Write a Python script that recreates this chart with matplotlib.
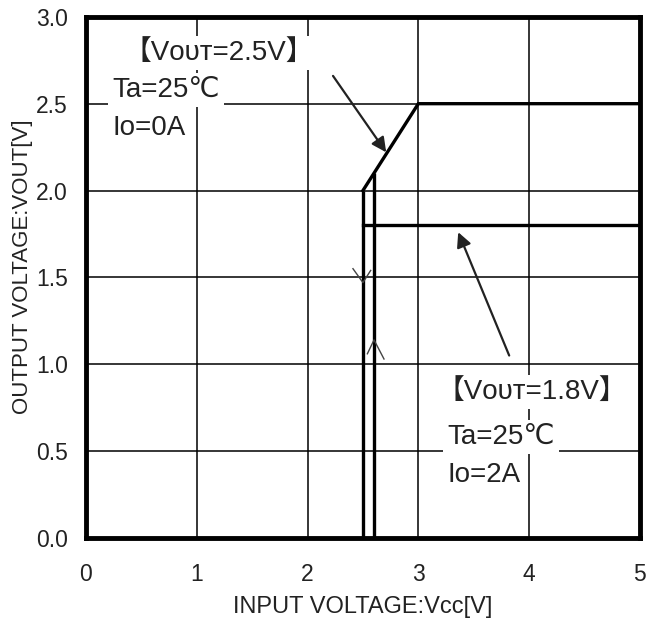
import matplotlib
matplotlib.use('Agg')
import matplotlib.pyplot as plt

# ---- data ----
fall_x = [2.5, 2.5]           # falling edge (Vcc decreasing)
fall_y = [0.0, 2.0]
rise_x = [2.6, 2.6]           # rising edge (Vcc increasing)
rise_y = [0.0, 2.1]
out25_x = [2.5, 3.0, 5.0]     # Vout = 2.5V setting
out25_y = [2.0, 2.5, 2.5]
out18_x = [2.5, 5.0]          # Vout = 1.8V setting
out18_y = [1.8, 1.8]

xticks = [0, 1, 2, 3, 4, 5]
yticks = [0.0, 0.5, 1.0, 1.5, 2.0, 2.5, 3.0]

# small hysteresis chevrons: (left arm, tip, right arm)
down_chev = [(2.41, 1.55), (2.5, 1.47), (2.57, 1.54)]
up_chev = [(2.54, 1.06), (2.6, 1.14), (2.69, 1.03)]

# annotation arrows: (tail, tip)
arrow25 = ((2.23, 2.66), (2.71, 2.22))
arrow18 = ((3.82, 1.05), (3.36, 1.76))

fams = ['Liberation Sans', 'DejaVu Sans', 'Noto Sans CJK JP']
plt.rcParams['font.family'] = fams

fig = plt.figure(figsize=(6.51, 6.24), dpi=100)
ax = fig.add_axes([0.132, 0.138, 0.851, 0.835])

ax.set_xlim(0, 5)
ax.set_ylim(0, 3)
ax.set_xticks(xticks)
ax.set_yticks(yticks)
ax.set_xticklabels([str(t) for t in xticks])
ax.set_yticklabels([f'{t:.1f}' for t in yticks])
ax.tick_params(length=0, labelsize=16.5, colors='#222222')
ax.tick_params(axis='x', pad=18)
ax.tick_params(axis='y', pad=13)
ax.grid(True, color='black', linewidth=1.1)
ax.set_axisbelow(True)
for s in ax.spines.values():
    s.set_linewidth(3.5)

ax.plot(fall_x, fall_y, color='black', lw=2.4, solid_capstyle='butt')
ax.plot(rise_x, rise_y, color='black', lw=2.4, solid_capstyle='butt')
ax.plot(out25_x, out25_y, color='black', lw=2.4, solid_joinstyle='miter')
ax.plot(out18_x, out18_y, color='black', lw=2.4)

for chev in (down_chev, up_chev):
    ax.plot([p[0] for p in chev], [p[1] for p in chev], color='#444444', lw=1.0)

for tail, tip in (arrow25, arrow18):
    ax.annotate('', xy=tip, xytext=tail,
                arrowprops=dict(arrowstyle='-|>', mutation_scale=22, lw=1.6,
                                color='#222222', shrinkA=0, shrinkB=0))

box = dict(facecolor='white', edgecolor='none', pad=3)
tk = dict(fontsize=20, color='#222222', va='center', ha='left', bbox=box, zorder=5)
ax.text(0.34, 2.79, '【Vᴏᴜᴛ=2.5V】', **tk)
ax.text(0.24, 2.58, 'Ta=25℃', **tk)
ax.text(0.24, 2.36, 'Io=0A', **tk)
ax.text(3.16, 0.84, '【Vᴏᴜᴛ=1.8V】', **tk)
ax.text(3.26, 0.58, 'Ta=25℃', **tk)
ax.text(3.26, 0.36, 'Io=2A', **tk)

ax.set_xlabel('INPUT VOLTAGE:Vcc[V]', fontsize=17, color='#222222')
ax.set_ylabel('OUTPUT VOLTAGE:VOUT[V]', fontsize=16, color='#222222')
ax.xaxis.set_label_coords(0.5, -0.112)
ax.yaxis.set_label_coords(-0.095, 0.52)

fig.savefig('out.png', dpi=100)
